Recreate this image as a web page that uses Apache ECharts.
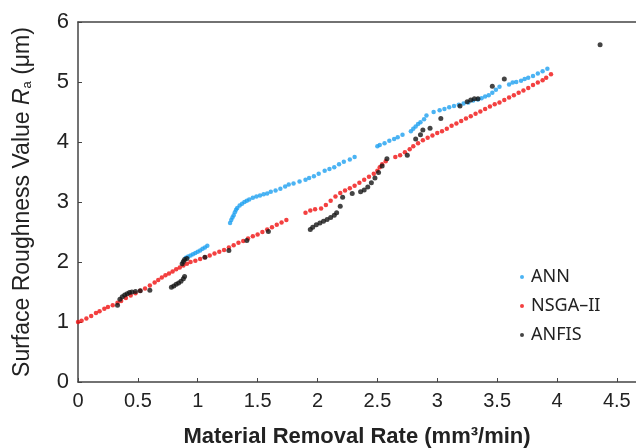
<!DOCTYPE html>
<html>
<head>
<meta charset="utf-8">
<script src="https://cdn.jsdelivr.net/npm/echarts@6/dist/echarts.min.js"></script>
<style>html,body{margin:0;padding:0;background:#fff}#c{width:636px;height:448px}</style>
</head>
<body>
<div id="c"></div>
<script>
const xTicks = [0, 0.5, 1, 1.5, 2, 2.5, 3, 3.5, 4, 4.5];
const yTicks = [0, 1, 2, 3, 4, 5, 6];
const seriesNames = ['ANN', 'NSGA\u2013II', 'ANFIS'];

const annData = [
[0.90,2.07],[0.92,2.09],[0.94,2.11],[0.96,2.13],[0.98,2.15],[1.00,2.17],[1.02,2.19],[1.04,2.22],[1.06,2.24],[1.08,2.27],
[1.27,2.65],[1.28,2.70],[1.29,2.74],[1.30,2.78],[1.31,2.83],[1.32,2.87],[1.33,2.90],[1.35,2.94],[1.37,2.97],[1.39,3.00],[1.41,3.02],[1.43,3.04],[1.46,3.07],[1.49,3.09],[1.52,3.11],[1.55,3.13],[1.58,3.14],[1.61,3.17],[1.65,3.19],[1.69,3.22],[1.73,3.26],[1.76,3.29],[1.80,3.31],[1.85,3.34],[1.90,3.37],[1.93,3.40],[1.97,3.43],[2.01,3.47],[2.06,3.52],[2.10,3.55],[2.14,3.58],[2.18,3.63],[2.22,3.67],[2.27,3.71],[2.31,3.75],
[2.50,3.93],[2.52,3.95],[2.56,3.98],[2.60,4.02],[2.64,4.05],[2.67,4.08],[2.71,4.12],
[2.78,4.18],[2.80,4.22],[2.82,4.26],[2.84,4.30],[2.86,4.33],[2.89,4.38],[2.91,4.44],
[2.97,4.50],[3.02,4.53],[3.06,4.55],[3.10,4.58],[3.14,4.60],[3.18,4.62],[3.22,4.64],[3.26,4.66],[3.30,4.69],[3.34,4.71],[3.37,4.73],[3.40,4.76],[3.43,4.78],[3.46,4.82],[3.49,4.87],[3.52,4.92],
[3.60,4.96],[3.63,4.99],[3.66,5.00],[3.70,5.02],[3.73,5.05],[3.76,5.07],[3.80,5.10],[3.84,5.14],[3.88,5.18],[3.92,5.22]
];

const nsgaData = [
[0.00,1.00],[0.03,1.02],[0.07,1.06],[0.11,1.10],[0.15,1.15],[0.18,1.18],[0.22,1.22],[0.25,1.25],[0.29,1.28],[0.33,1.32],[0.36,1.35],[0.40,1.40],[0.44,1.44],[0.48,1.48],[0.52,1.52],[0.56,1.56],[0.60,1.61],[0.64,1.66],[0.67,1.70],[0.70,1.74],[0.73,1.78],[0.76,1.81],[0.79,1.84],[0.82,1.88],[0.85,1.91],[0.88,1.94],[0.91,1.97],[0.94,2.00],[0.98,2.02],[1.02,2.05],[1.06,2.08],[1.10,2.11],[1.14,2.14],[1.18,2.17],[1.22,2.20],[1.26,2.24],[1.30,2.28],[1.34,2.32],[1.38,2.35],[1.42,2.39],[1.46,2.43],[1.50,2.46],[1.54,2.50],[1.58,2.54],[1.62,2.58],[1.66,2.62],[1.70,2.66],[1.74,2.70],
[1.90,2.82],[1.94,2.86],[1.98,2.88],[2.03,2.89],[2.07,2.95],[2.11,3.02],[2.15,3.09],[2.19,3.15],[2.23,3.19],[2.27,3.23],[2.31,3.27],[2.35,3.32],[2.39,3.37],[2.43,3.42],[2.47,3.47],[2.50,3.52],[2.52,3.58],[2.54,3.63],[2.57,3.68],
[2.65,3.75],[2.69,3.78],[2.73,3.83],[2.77,3.88],[2.80,3.93],[2.84,3.98],[2.88,4.03],[2.92,4.07],[2.96,4.11],[3.00,4.15],[3.04,4.18],[3.08,4.22],[3.12,4.27],[3.16,4.31],[3.20,4.35],[3.24,4.39],[3.28,4.43],[3.32,4.47],[3.36,4.51],[3.40,4.55],[3.44,4.59],[3.48,4.63],[3.52,4.66],[3.56,4.70],[3.60,4.74],[3.64,4.78],[3.68,4.82],[3.72,4.86],[3.76,4.90],[3.80,4.95],[3.84,4.99],[3.88,5.03],[3.91,5.07],[3.95,5.13]
];

const anfisData = [
[0.33,1.28],[0.35,1.38],[0.37,1.42],[0.39,1.45],[0.41,1.47],[0.43,1.49],[0.45,1.50],[0.48,1.51],[0.52,1.52],[0.60,1.53],
[0.78,1.58],[0.80,1.60],[0.82,1.63],[0.84,1.65],[0.86,1.68],[0.88,1.72],[0.89,1.76],
[0.87,1.97],[0.88,2.01],[0.89,2.04],[0.91,2.06],
[1.06,2.08],[1.26,2.19],[1.41,2.36],[1.59,2.51],
[1.94,2.54],[1.96,2.58],[1.99,2.62],[2.02,2.65],[2.05,2.68],[2.08,2.71],[2.11,2.74],[2.14,2.78],[2.16,2.82],[2.19,2.93],[2.21,3.08],[2.29,3.14],[2.36,3.17],[2.39,3.20],[2.42,3.25],[2.45,3.32],[2.48,3.40],[2.51,3.49],[2.54,3.60],[2.58,3.72],
[2.75,3.78],[2.82,4.05],[2.86,4.12],[2.88,4.20],[2.94,4.23],[3.03,4.39],[3.19,4.60],[3.25,4.67],[3.28,4.70],[3.31,4.72],[3.34,4.72],[3.46,4.93],[3.56,5.05],
[4.36,5.62]
];

const axisColor = '#444';
const sansFont = '"Liberation Sans", Arial, sans-serif';
const chart = echarts.init(document.getElementById('c'), null, {renderer: 'canvas'});
chart.setOption({
  animation: false,
  backgroundColor: '#fff',
  grid: {left: 78, right: 0, top: 22, bottom: 66, outerBoundsMode: 'none', containLabel: false},
  legend: {
    orient: 'vertical', left: 515, top: 262,
    icon: 'circle', itemWidth: 4, itemHeight: 4, itemGap: 9,
    textStyle: {fontFamily: '"Noto Sans", sans-serif', fontSize: 18, color: '#222', lineHeight: 20, padding: [0,0,0,2]},
    data: seriesNames
  },
  xAxis: [{
    type: 'value', min: 0, max: 4.66, interval: 0.5,
    name: 'Material Removal Rate (mm\u00B3/min)', nameLocation: 'middle', nameGap: 44,
    nameTextStyle: {fontFamily: sansFont, fontWeight: 'bold', fontSize: 22, color: '#222'},
    axisLine: {show: true, lineStyle: {color: axisColor, width: 1.5}},
    axisTick: {show: true, inside: true, length: 4, lineStyle: {color: axisColor}},
    axisLabel: {fontFamily: sansFont, fontSize: 20, color: '#222', margin: 9, showMaxLabel: false,
      formatter: v => xTicks.some(t => Math.abs(t - v) < 1e-6) ? String(v) : ''},
    splitLine: {show: false}
  }, {
    type: 'value', position: 'top', min: 0, max: 4.66,
    axisLine: {show: true, lineStyle: {color: axisColor, width: 1.5}},
    axisTick: {show: false}, axisLabel: {show: false}, splitLine: {show: false}
  }],
  yAxis: {
    type: 'value', min: 0, max: 6, interval: 1,
    name: '{n|Surface Roughness Value }{i|R}{s|a}{n| (\u03BCm)}', nameLocation: 'middle', nameGap: 44,
    nameTextStyle: {
      rich: {
        n: {fontFamily: sansFont, fontSize: 23, color: '#222'},
        i: {fontFamily: sansFont, fontStyle: 'italic', fontSize: 23, color: '#222'},
        s: {fontFamily: sansFont, fontSize: 13, color: '#222', verticalAlign: 'bottom', padding: [9,0,0,0]}
      }
    },
    axisLine: {show: true, lineStyle: {color: axisColor, width: 1.5}},
    axisTick: {show: true, inside: true, length: 4, lineStyle: {color: axisColor}},
    axisLabel: {fontFamily: sansFont, fontSize: 22, color: '#222', margin: 9,
      formatter: v => yTicks.indexOf(v) >= 0 ? String(v) : ''},
    splitLine: {show: false}
  },
  series: [
    {name: seriesNames[0], type: 'scatter', data: annData, symbolSize: 4.5, itemStyle: {color: '#1ea0f0'}},
    {name: seriesNames[1], type: 'scatter', data: nsgaData, symbolSize: 4.5, itemStyle: {color: '#f01010'}},
    {name: seriesNames[2], type: 'scatter', data: anfisData, symbolSize: 5, itemStyle: {color: '#151515'}}
  ]
});
</script>
</body>
</html>
